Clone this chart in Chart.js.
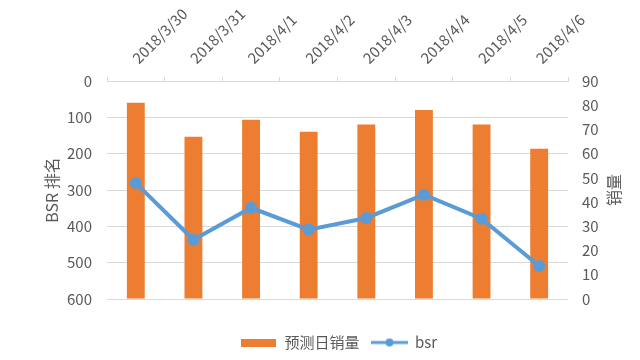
<!DOCTYPE html>
<html>
<head>
<meta charset="utf-8">
<script src="https://cdn.jsdelivr.net/npm/chart.js@4.4.0/dist/chart.umd.min.js"></script>
<style>
  html, body { margin: 0; padding: 0; background: #fff; }
  #wrap { width: 640px; height: 360px; }
</style>
</head>
<body>
<div id="wrap"><canvas id="salesChart"></canvas></div>
<script>
const dates = ["2018/3/30", "2018/3/31", "2018/4/1", "2018/4/2", "2018/4/3", "2018/4/4", "2018/4/5", "2018/4/6"];
const forecastSales = [81, 67, 74, 69, 72, 78, 72, 62];
const bsrRank = [281, 437, 349, 409, 377, 313, 379, 509];

const orange = "#ED7D31";
const blue = "#5B9BD5";
const gray = "#595959";
const gridColor = "#D9D9D9";
const fontFamily = '"Noto Sans CJK SC", "Noto Sans", sans-serif';

// legend icons
function barIcon() {
  const c = document.createElement("canvas");
  c.width = 35; c.height = 8;
  const g = c.getContext("2d");
  g.fillStyle = orange;
  g.fillRect(0, 0, 35, 8);
  return c;
}
function lineIcon() {
  const c = document.createElement("canvas");
  c.width = 37; c.height = 10;
  const g = c.getContext("2d");
  g.strokeStyle = blue;
  g.lineWidth = 3;
  g.beginPath(); g.moveTo(0, 5); g.lineTo(37, 5); g.stroke();
  g.fillStyle = blue;
  g.beginPath(); g.arc(18.5, 5, 4, 0, Math.PI * 2); g.fill();
  return c;
}

const rightTitle = {
  id: "rightTitle",
  afterDraw(chart) {
    const { ctx, chartArea } = chart;
    const y1 = chart.scales.y1;
    ctx.save();
    ctx.translate(y1.left + 46, (chartArea.top + chartArea.bottom) / 2);
    ctx.rotate(-Math.PI / 2);
    ctx.font = "16px " + fontFamily;
    ctx.fillStyle = gray;
    ctx.textAlign = "center";
    ctx.textBaseline = "middle";
    ctx.fillText("销量", 0, 0);
    ctx.restore();
  }
};

new Chart(document.getElementById("salesChart"), {
  type: "bar",
  data: {
    labels: dates,
    datasets: [{
      type: "bar",
      label: "预测日销量",
      data: forecastSales,
      backgroundColor: orange,
      yAxisID: "y1",
      barPercentage: 0.31,
      categoryPercentage: 1,
      order: 1
    }, {
      type: "line",
      label: "bsr",
      data: bsrRank,
      borderColor: blue,
      backgroundColor: blue,
      borderWidth: 4,
      pointRadius: 4,
      pointBackgroundColor: blue,
      pointBorderColor: blue,
      tension: 0,
      yAxisID: "y",
      order: 0
    }]
  },
  options: {
    responsive: true,
    maintainAspectRatio: false,
    animation: false,
    layout: { padding: { left: 38, right: 0, top: 0, bottom: 0 } },
    plugins: {
      tooltip: { enabled: false },
      legend: {
        position: "bottom",
        title: { display: true, text: "", font: { size: 10 }, padding: { top: 12, bottom: 0 } },
        labels: {
          usePointStyle: true,
          pointStyleWidth: 36,
          padding: 12,
          color: gray,
          font: { family: fontFamily, size: 15 },
          generateLabels: () => [
            { text: "预测日销量", pointStyle: barIcon(), fillStyle: orange, strokeStyle: orange, lineWidth: 0, hidden: false, datasetIndex: 0, fontColor: gray },
            { text: "bsr", pointStyle: lineIcon(), fillStyle: blue, strokeStyle: blue, lineWidth: 0, hidden: false, datasetIndex: 1, fontColor: gray }
          ]
        }
      }
    },
    scales: {
      x: {
        position: "top",
        offset: true,
        grid: { offset: true, drawOnChartArea: false, color: gridColor, tickLength: 4 },
        border: { color: gridColor },
        ticks: { color: gray, font: { family: fontFamily, size: 15 }, minRotation: 45, maxRotation: 45, padding: 10, labelOffset: 12 },
        afterFit: (scale) => { scale.height = 81; }
      },
      y: {
        position: "left",
        reverse: true,
        min: 0,
        max: 600,
        ticks: { stepSize: 100, color: gray, font: { family: fontFamily, size: 15 }, padding: 15 },
        grid: { color: gridColor, drawTicks: false },
        border: { display: false },
        title: { display: true, text: "BSR 排名", color: gray, font: { family: fontFamily, size: 16 } },
        afterFit: (scale) => { scale.width = 69; }
      },
      y1: {
        position: "right",
        min: 0,
        max: 90,
        ticks: { stepSize: 10, color: gray, font: { family: fontFamily, size: 15 }, padding: 14 },
        grid: { drawOnChartArea: false, drawTicks: false },
        border: { display: false },
        afterFit: (scale) => { scale.width = 72; }
      }
    }
  },
  plugins: [rightTitle]
});
</script>
</body>
</html>
